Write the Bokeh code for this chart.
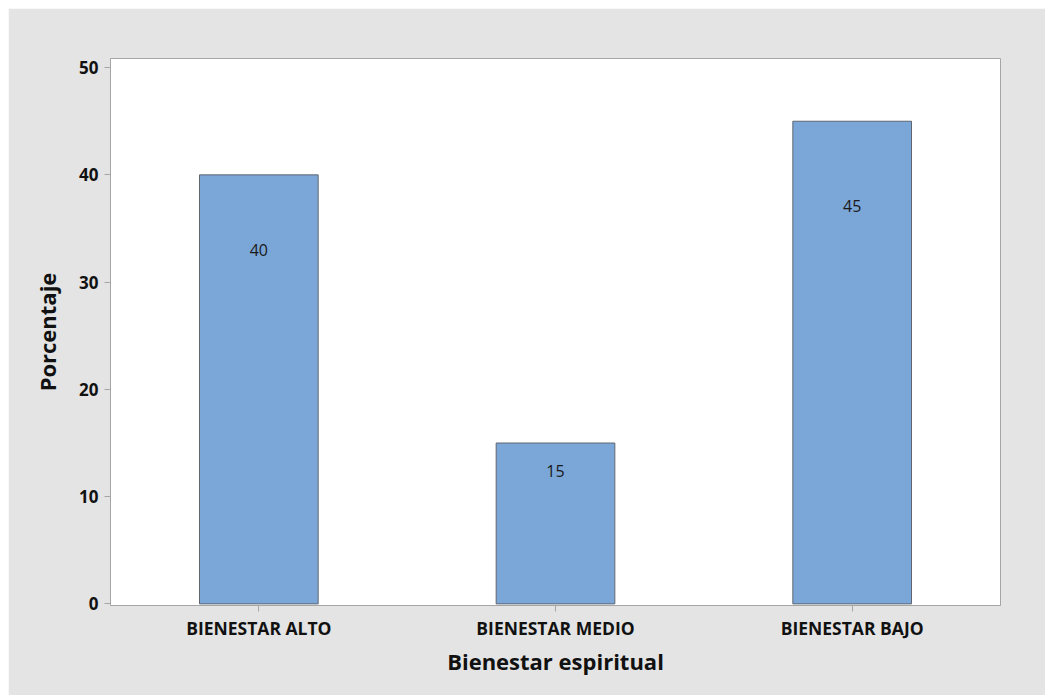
from bokeh.plotting import figure
from bokeh.models import FactorRange, Range1d, ColumnDataSource, FixedTicker
from bokeh.embed import file_html
from bokeh.resources import INLINE
from bokeh.core.properties import value

# Percentage of respondents per level of spiritual well-being
categories = ["BIENESTAR ALTO", "BIENESTAR MEDIO", "BIENESTAR BAJO"]
percentages = [40, 15, 45]
y_ticks = [0, 10, 20, 30, 40, 50]

FONT = "Open Sans"
BG = "#e4e4e4"
FRAME = "#a6a6a6"

source = ColumnDataSource(dict(
    cat=categories,
    pct=percentages,
    label=[str(v) for v in percentages],
    label_y=[v * 0.825 for v in percentages],
))

p = figure(
    width=1037, height=687,
    x_range=FactorRange(factors=categories, range_padding=0),
    y_range=Range1d(-0.15, 50.85),
    output_backend="svg", toolbar_location=None,
    background_fill_color="white", border_fill_color=BG,
    min_border_left=102, min_border_right=45,
    min_border_top=50, min_border_bottom=90,
    margin=(8, 0, 0, 8),
)

p.vbar(x="cat", top="pct", bottom=0, width=0.4, source=source,
       fill_color="#7ba6d8", line_color="#5f6670", line_width=1)

p.text(x="cat", y="label_y", text="label", source=source,
       text_align="center", text_baseline="middle",
       text_font=value(FONT), text_font_size="16px", text_color="#1a1a1a")

p.outline_line_color = FRAME
p.outline_line_width = 1
p.xgrid.visible = False
p.ygrid.visible = False

for ax in (p.xaxis[0], p.yaxis[0]):
    ax.axis_line_color = FRAME
    ax.major_tick_line_color = FRAME
    ax.major_tick_out = 6
    ax.major_tick_in = 0
    ax.minor_tick_line_color = None
    ax.major_label_text_font = FONT
    ax.major_label_text_font_style = "bold"
    ax.major_label_text_color = "#111111"
    ax.axis_label_text_font = FONT
    ax.axis_label_text_font_style = "bold"
    ax.axis_label_text_font_size = "22px"
    ax.axis_label_text_color = "#111111"

p.yaxis.ticker = FixedTicker(ticks=y_ticks)
p.yaxis.major_label_text_font_size = "17px"
p.yaxis.major_label_standoff = 6
p.yaxis.axis_label = "Porcentaje"
p.yaxis.axis_label_standoff = 14

p.xaxis.major_label_text_font_size = "17.5px"
p.xaxis.major_label_standoff = 4
p.xaxis.axis_label = "Bienestar espiritual"
p.xaxis.axis_label_standoff = 3

open("out.html", "w").write(file_html(p, INLINE))
